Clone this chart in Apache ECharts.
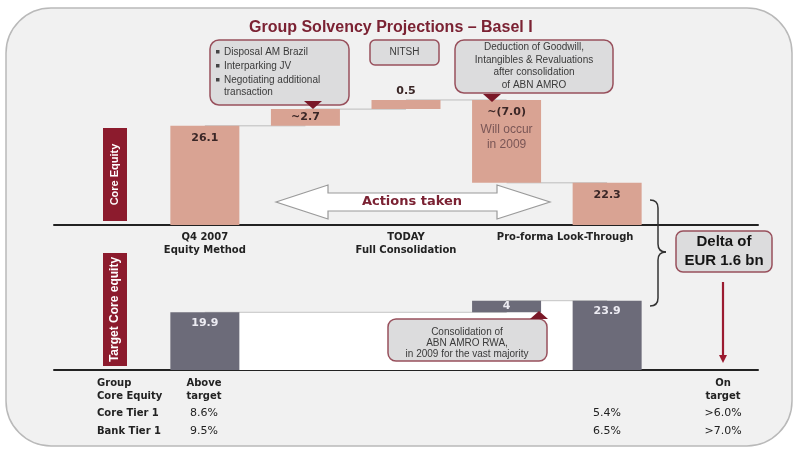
<!DOCTYPE html>
<html><head><meta charset="utf-8">
<script src="https://cdn.jsdelivr.net/npm/echarts@6/dist/echarts.min.js"></script>
<style>html,body{margin:0;padding:0;background:#fff}#c{width:800px;height:454px}</style>
</head><body><div id="c"></div>
<script>
// ---- data ----
const categories = ['', 'Q4 2007\nEquity Method', '', 'TODAY\nFull Consolidation', '', 'Pro-forma Look-Through', ''];
// printed values of the Core Equity bridge (schematic, not drawn to scale in the original)
const coreLabels = ['', '26.1', '~2.7', '0.5', '~(7.0)', '22.3', ''];
// drawn extents of the schematic bars
const coreLow  = ['-', 0, 26.1, 30.5, 11.1, 0, '-'];
const coreHigh = ['-', 26.1, 30.5, 32.9, 32.9, 11.1, '-'];
// Target core equity bridge
const targetLow    = ['-', 0, '-', '-', 19.9, 0, '-'];
const targetHigh   = ['-', 19.9, '-', '-', 23.9, 23.9, '-'];
const targetLabels = ['', '19.9', '', '', '4', '23.9', ''];
// table below the chart
const rowNames  = ['Group\nCore Equity', 'Core Tier 1', 'Bank Tier 1'];
const colQ4     = ['Above\ntarget', '8.6%', '9.5%'];
const colPro    = ['', '5.4%', '6.5%'];
const colTarget = ['On\ntarget', '>6.0%', '>7.0%'];

const BAR_PINK = '#d9a393', BAR_GREY = '#6c6b79', DARK_RED = '#8c1b2d', TITLE_RED = '#7b2233';
const F = 'DejaVu Sans';

const chart = echarts.init(document.getElementById('c'), null, {renderer: 'canvas'});

function diff(h, l) { return h.map((v, i) => (v === '-' || l[i] === '-') ? '-' : +(v - l[i]).toFixed(2)); }

// connectors between consecutive core bars (shared edge)
const coreLinks = [];
for (let i = 1; i < 5; i++) {
  const a = [coreLow[i], coreHigh[i]], b = [coreLow[i + 1], coreHigh[i + 1]];
  const lv = a.find(v => b.indexOf(v) >= 0);
  if (lv !== undefined) coreLinks.push([i, i + 1, lv]);
}

const series = [];
coreLinks.forEach(l => series.push({
  type: 'line', xAxisIndex: 0, yAxisIndex: 0, z: 1, symbol: 'none', silent: true,
  lineStyle: {color: '#bdbdbd', width: 1}, data: [[l[0], l[2]], [l[1], l[2]]]
}));
series.push({
  type: 'bar', xAxisIndex: 0, yAxisIndex: 0, stack: 'core', z: 3, barWidth: 69,
  itemStyle: {color: 'transparent'}, data: coreLow, silent: true
});
series.push({
  type: 'bar', xAxisIndex: 0, yAxisIndex: 0, stack: 'core', z: 3, barWidth: 69,
  itemStyle: {color: BAR_PINK},
  data: diff(coreHigh, coreLow).map((v, i) => {
    const lab = coreLabels[i];
    let label = {show: true, position: 'insideTop', distance: 7, color: '#3a2626', fontFamily: F, fontWeight: 'bold', fontSize: 11, formatter: lab};
    if (i === 2) label = Object.assign(label, {position: 'inside'});
    if (i === 3) label = Object.assign(label, {position: 'top', distance: 3, fontSize: 11});
    if (i === 4) label = {show: true, position: 'insideTop', distance: 3, fontFamily: F,
      formatter: '{a|' + lab + '}\n{b|Will occur}\n{b|in 2009}',
      rich: {a: {fontFamily: F, fontWeight: 'bold', fontSize: 11, color: '#3a2626', lineHeight: 19},
             b: {fontFamily: 'Liberation Sans', fontSize: 12, color: '#7a5656', lineHeight: 15}}};
    return {value: v, label: label};
  })
});
// bottom chart: white connector area
series.push({
  type: 'line', xAxisIndex: 1, yAxisIndex: 1, z: 1, symbol: 'none', step: 'start', silent: true,
  lineStyle: {color: '#c4c4c4', width: 1}, areaStyle: {color: '#ffffff', opacity: 1},
  data: [[1, targetHigh[1]], [4, targetLow[4]], [5, targetHigh[5]]]
});
series.push({
  type: 'bar', xAxisIndex: 1, yAxisIndex: 1, stack: 'tgt', z: 3, barWidth: 69,
  itemStyle: {color: 'transparent'}, data: targetLow, silent: true
});
series.push({
  type: 'bar', xAxisIndex: 1, yAxisIndex: 1, stack: 'tgt', z: 3, barWidth: 69,
  itemStyle: {color: BAR_GREY},
  data: diff(targetHigh, targetLow).map((v, i) => ({value: v, label: {
    show: true, position: i === 4 ? 'inside' : 'insideTop', distance: 5, color: '#ecebf2',
    fontFamily: F, fontWeight: 'bold', fontSize: 11, formatter: targetLabels[i]}}))
});

// ---- annotations ----
const g = [];
g.push({type: 'rect', z: -10, shape: {x: 6, y: 8, width: 786, height: 438, r: 45},
  style: {fill: '#f1f1f1', stroke: '#b9b9b9', lineWidth: 1.5}});
// y-axis label boxes
g.push({type: 'rect', z: 5, shape: {x: 103, y: 128, width: 24, height: 93}, style: {fill: DARK_RED}});
g.push({type: 'text', z: 6, x: 115, y: 174.5, rotation: Math.PI / 2,
  style: {text: 'Core Equity', fill: '#fff', font: 'bold 11px "Liberation Sans"', align: 'center', verticalAlign: 'middle'}});
g.push({type: 'rect', z: 5, shape: {x: 103, y: 253, width: 24, height: 113}, style: {fill: DARK_RED}});
g.push({type: 'text', z: 6, x: 115, y: 309.5, rotation: Math.PI / 2,
  style: {text: 'Target Core equity', fill: '#fff', font: 'bold 12px "Liberation Sans"', align: 'center', verticalAlign: 'middle'}});

function callout(x, y, w, h, r) {
  return {type: 'rect', z: 8, shape: {x: x, y: y, width: w, height: h, r: r},
    style: {fill: '#dcdcdd', stroke: '#98505c', lineWidth: 1.5}};
}
function txt(x, y, s, font, fill, align) {
  return {type: 'text', z: 9, x: x, y: y, style: {text: s, font: font, fill: fill || '#333', align: align || 'center', verticalAlign: 'middle'}};
}
// callout 1
g.push(callout(210, 40, 139, 65, 9));
const c1 = ['Disposal AM Brazil', 'Interparking JV', 'Negotiating additional', 'transaction'];
const c1y = [52, 66, 80, 92];
c1.forEach((s, i) => {
  if (i < 3) g.push({type: 'rect', z: 9, shape: {x: 216, y: c1y[i] - 2, width: 3.5, height: 3.5}, style: {fill: '#444'}});
  g.push(txt(224, c1y[i], s, '10px "Liberation Sans"', '#3a3a3a', 'left'));
});
g.push({type: 'polygon', z: 10, shape: {points: [[304, 101], [322, 101], [313, 109]]}, style: {fill: '#7a1828'}});
// NITSH
g.push(callout(370, 40, 69, 25, 5));
g.push(txt(404.5, 52.5, 'NITSH', '10px "Liberation Sans"', '#3a3a3a'));
// callout 3
g.push(callout(455, 40, 158, 53, 9));
['Deduction of Goodwill,', 'Intangibles & Revaluations', 'after consolidation', 'of ABN AMRO'].forEach((s, i) =>
  g.push(txt(534, [47, 60, 72, 85][i], s, '10px "Liberation Sans"', '#3a3a3a')));
g.push({type: 'polygon', z: 10, shape: {points: [[483, 94], [501, 94], [492, 102]]}, style: {fill: '#7a1828'}});
// bottom callout
g.push(callout(388, 319, 159, 42, 8));
['Consolidation of', 'ABN AMRO RWA,', 'in 2009 for the vast majority'].forEach((s, i) =>
  g.push(txt(467, [332, 343, 354][i], s, '10px "Liberation Sans"', '#3a3a3a')));
g.push({type: 'polygon', z: 10, shape: {points: [[530, 319], [548, 319], [539, 311]]}, style: {fill: '#7a1828'}});
// Actions taken arrow
g.push({type: 'polygon', z: 4, shape: {points: [[276, 202], [328, 185], [328, 193], [497, 193], [497, 185], [550, 202], [497, 219], [497, 211], [328, 211], [328, 219]]},
  style: {fill: '#ffffff', stroke: '#9a9a9a', lineWidth: 1.2}});
g.push(txt(412, 202, 'Actions taken', 'bold 13px "DejaVu Sans"', TITLE_RED));
// brace
const braceStyle = {fill: 'none', stroke: '#333', lineWidth: 1.5};
[[650, 200, 658, 208, 658, 200], [658, 244, 666, 252, 658, 252], [666, 252, 658, 260, 658, 252], [658, 298, 650, 306, 658, 306]].forEach(b =>
  g.push({type: 'bezierCurve', z: 4, shape: {x1: b[0], y1: b[1], x2: b[2], y2: b[3], cpx1: b[4], cpy1: b[5]}, style: braceStyle}));
g.push({type: 'line', z: 4, shape: {x1: 658, y1: 208, x2: 658, y2: 244}, style: braceStyle});
g.push({type: 'line', z: 4, shape: {x1: 658, y1: 260, x2: 658, y2: 298}, style: braceStyle});
// Delta box
g.push(callout(676, 231, 96, 41, 7));
g.push({type: 'text', z: 9, x: 724, y: 251.5, style: {text: 'Delta of\nEUR 1.6 bn', font: 'bold 15px "Liberation Sans"', fill: '#151515', align: 'center', verticalAlign: 'middle', lineHeight: 19}});
// red arrow
g.push({type: 'line', z: 5, shape: {x1: 723, y1: 282, x2: 723, y2: 356}, style: {stroke: '#9b1b30', lineWidth: 2.2}});
g.push({type: 'polygon', z: 5, shape: {points: [[719, 355], [727, 355], [723, 363]]}, style: {fill: '#9b1b30'}});
// table
const rowY = [[383, 396], [413], [431]];
rowNames.forEach((s, i) => s.split('\n').forEach((line, k) =>
  g.push(txt(97, rowY[i][k], line, 'bold 10px "DejaVu Sans"', '#222', 'left'))));
[[204, colQ4], [607, colPro], [723, colTarget]].forEach(([x, col]) => col.forEach((s, i) => {
  if (!s) return;
  s.split('\n').forEach((line, k) => g.push(txt(x, rowY[i][k], line,
    (i === 0 ? 'bold 10px "DejaVu Sans"' : '11px "DejaVu Sans"'), '#222')));
}));

const option = {
  backgroundColor: '#ffffff',
  animation: false,
  title: {text: 'Group Solvency Projections – Basel I', left: 244, top: 15,
    textStyle: {color: TITLE_RED, fontFamily: 'Liberation Sans', fontWeight: 'bold', fontSize: 16}},
  grid: [
    {left: 54, right: 42, top: 73, bottom: 229},
    {left: 54, right: 42, top: 283, bottom: 84}
  ],
  xAxis: [
    {type: 'category', gridIndex: 0, data: categories,
      axisLine: {lineStyle: {color: '#222', width: 2}}, axisTick: {show: false},
      axisLabel: {interval: 0, margin: 6, color: '#222', fontFamily: F, fontWeight: 'bold', fontSize: 10, lineHeight: 13,
        formatter: (v, i) => i === 5 ? '{s|' + v + '}' : v,
        rich: {s: {padding: [0, 84, 0, 0], color: '#222', fontFamily: F, fontWeight: 'bold', fontSize: 10, lineHeight: 13}}}},
    {type: 'category', gridIndex: 1, data: categories,
      axisLine: {lineStyle: {color: '#222', width: 2}}, axisTick: {show: false}, axisLabel: {show: false}}
  ],
  yAxis: [
    {type: 'value', gridIndex: 0, min: 0, max: 40, show: false},
    {type: 'value', gridIndex: 1, min: 0, max: 30, show: false}
  ],
  graphic: {elements: g},
  series: series
};
chart.setOption(option);
</script>
</body></html>
